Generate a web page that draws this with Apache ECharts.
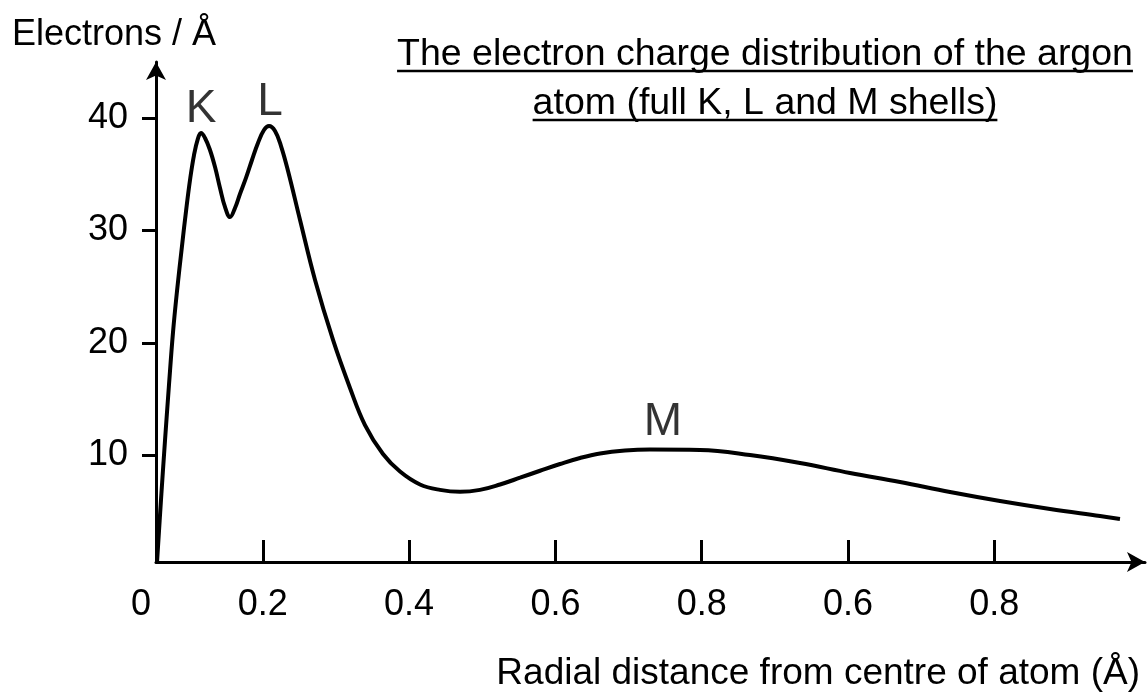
<!DOCTYPE html>
<html>
<head>
<meta charset="utf-8">
<title>Argon electron charge distribution</title>
<script src="https://cdn.jsdelivr.net/npm/echarts@6/dist/echarts.min.js"></script>
<style>
  html, body { margin: 0; padding: 0; background: #fff; }
  #chart { width: 1147px; height: 698px; }
</style>
</head>
<body>
<div id="chart"></div>
<script>
// Radial distance (Å) and electrons per Å along the curve
const radius = [0.0554, 0.0608, 0.0663, 0.0718, 0.0772, 0.0827, 0.0895, 0.0950, 0.1005, 0.1059,
  0.1114, 0.1155, 0.1210, 0.1278, 0.1347, 0.1415, 0.1483, 0.1552, 0.1620, 0.1688, 0.1770,
  0.1852, 0.1934, 0.2016, 0.2085, 0.2167, 0.2249, 0.2345, 0.2509, 0.2714, 0.2960, 0.3192,
  0.3397, 0.3643, 0.3876, 0.4149, 0.4422, 0.4696, 0.4969, 0.5243, 0.5516, 0.5790, 0.6063,
  0.6337, 0.6610, 0.6951, 0.7293, 0.7977, 0.8660, 0.9344, 1.0027, 1.0711, 1.1394, 1.2078,
  1.2762, 1.3445, 1.3718];
const density = [0.5, 6.0, 11.3, 16.3, 20.9, 24.6, 28.6, 31.7, 34.5, 36.7,
  38.2, 38.68, 38.24, 37.17, 35.65, 33.79, 32.10, 31.20, 32.01, 33.25, 34.68,
  36.28, 37.79, 38.95, 39.30, 38.86, 37.52, 35.30, 30.94, 25.60, 20.26, 15.99,
  12.69, 10.11, 8.55, 7.40, 6.92, 6.75, 6.92, 7.40, 8.00, 8.62, 9.22,
  9.76, 10.16, 10.42, 10.51, 10.47, 10.02, 9.31, 8.42, 7.62, 6.73, 5.93,
  5.22, 4.59, 4.33];

// Shell peaks labelled above the curve
const shellNames = ['K', 'L', 'M'];
const shellX = [0.1155, 0.21, 0.747];
const shellY = [38.68, 39.30, 10.5];

// Axis ticks and their printed labels
const xTickValues = [0.2, 0.4, 0.6, 0.8, 1.0, 1.2];
const xTickLabels = ['0.2', '0.4', '0.6', '0.8', '0.6', '0.8'];
const xOriginLabel = '0';
const yTickValues = [10, 20, 30, 40];

const titleLines = ['The electron charge distribution of the argon', 'atom (full K, L and M shells)'];
const yName = 'Electrons / Å';
const xName = 'Radial distance from centre of atom (Å)';

const FONT = '"Liberation Sans", Arial, Helvetica, sans-serif';
const X_MIN = 0.054, X_MAX = 1.406;

const chart = echarts.init(document.getElementById('chart'));

// measure text so the title underlines fit each line
const ctx = document.createElement('canvas').getContext('2d');
function textWidth(t, size) {
  ctx.font = size + 'px ' + FONT;
  return ctx.measureText(t).width;
}

const titleSize = 37.5;
const titleCx = 765;
const titleTops = [36, 85];
const titleGraphics = [];
titleLines.forEach((t, i) => {
  const w = textWidth(t, titleSize);
  const underlineY = titleTops[i] + 35;
  titleGraphics.push({
    type: 'text',
    style: {
      text: t, x: titleCx, y: titleTops[i], fill: '#000',
      font: titleSize + 'px ' + FONT, align: 'center', verticalAlign: 'top'
    },
    silent: true
  });
  titleGraphics.push({
    type: 'line',
    shape: { x1: titleCx - w / 2, y1: underlineY, x2: titleCx + w / 2, y2: underlineY },
    style: { stroke: '#000', lineWidth: 2.5 },
    silent: true
  });
});

const curve = radius.map((r, i) => [r, density[i]]);
const shellPoints = shellNames.map((n, i) => ({
  value: [shellX[i], shellY[i]],
  name: n,
  label: { distance: i === 2 ? 4 : 1 }
}));

const option = {
  backgroundColor: '#fff',
  animation: false,
  grid: { left: 156, right: 2, top: 62, bottom: 136, containLabel: false },
  xAxis: {
    type: 'value',
    min: X_MIN,
    max: X_MAX,
    name: xName,
    nameLocation: 'end',
    nameGap: -5,
    nameTextStyle: {
      fontFamily: FONT, fontSize: 37, color: '#000',
      align: 'right', verticalAlign: 'top', padding: [93, 0, 0, 0]
    },
    axisLine: {
      onZero: false,
      lineStyle: { color: '#000', width: 3 },
      symbol: ['none', 'arrow'],
      symbolSize: [15, 18]
    },
    axisTick: {
      show: true, inside: true, length: 22,
      lineStyle: { color: '#000', width: 3 },
      customValues: xTickValues
    },
    axisLabel: {
      show: true,
      margin: 25,
      fontFamily: FONT, fontSize: 36, color: '#000',
      customValues: [X_MIN].concat(xTickValues),
      formatter: function (v) {
        if (Math.abs(v - X_MIN) < 1e-9) return '{o|' + xOriginLabel + '}';
        const k = xTickValues.findIndex(t => Math.abs(t - v) < 1e-9);
        return k >= 0 ? xTickLabels[k] : '';
      },
      rich: { o: { fontFamily: FONT, fontSize: 36, color: '#000', padding: [0, 30, 0, 0] } }
    },
    splitLine: { show: false }
  },
  yAxis: {
    type: 'value',
    min: 0.5,
    max: 45,
    name: yName,
    nameLocation: 'end',
    nameGap: 9,
    nameTextStyle: {
      fontFamily: FONT, fontSize: 36, color: '#000',
      align: 'center', padding: [0, 84, 0, 0]
    },
    axisLine: {
      show: true,
      onZero: false,
      lineStyle: { color: '#000', width: 3 },
      symbol: ['none', 'arrow'],
      symbolSize: [15, 18]
    },
    axisTick: {
      show: true, inside: false, length: 14,
      lineStyle: { color: '#000', width: 3 },
      customValues: yTickValues
    },
    axisLabel: {
      show: true,
      margin: 28,
      fontFamily: FONT, fontSize: 36, color: '#000',
      customValues: yTickValues
    },
    splitLine: { show: false }
  },
  series: [
    {
      type: 'line',
      data: curve,
      smooth: 0.4,
      symbol: 'none',
      lineStyle: { color: '#000', width: 4 },
      silent: true
    },
    {
      type: 'scatter',
      data: shellPoints,
      symbolSize: 0,
      itemStyle: { color: '#000' },
      label: {
        show: true,
        position: 'top',
        formatter: '{b}',
        fontFamily: FONT, fontSize: 46, color: '#000'
      },
      silent: true
    }
  ],
  graphic: titleGraphics
};

chart.setOption(option);
</script>
</body>
</html>
